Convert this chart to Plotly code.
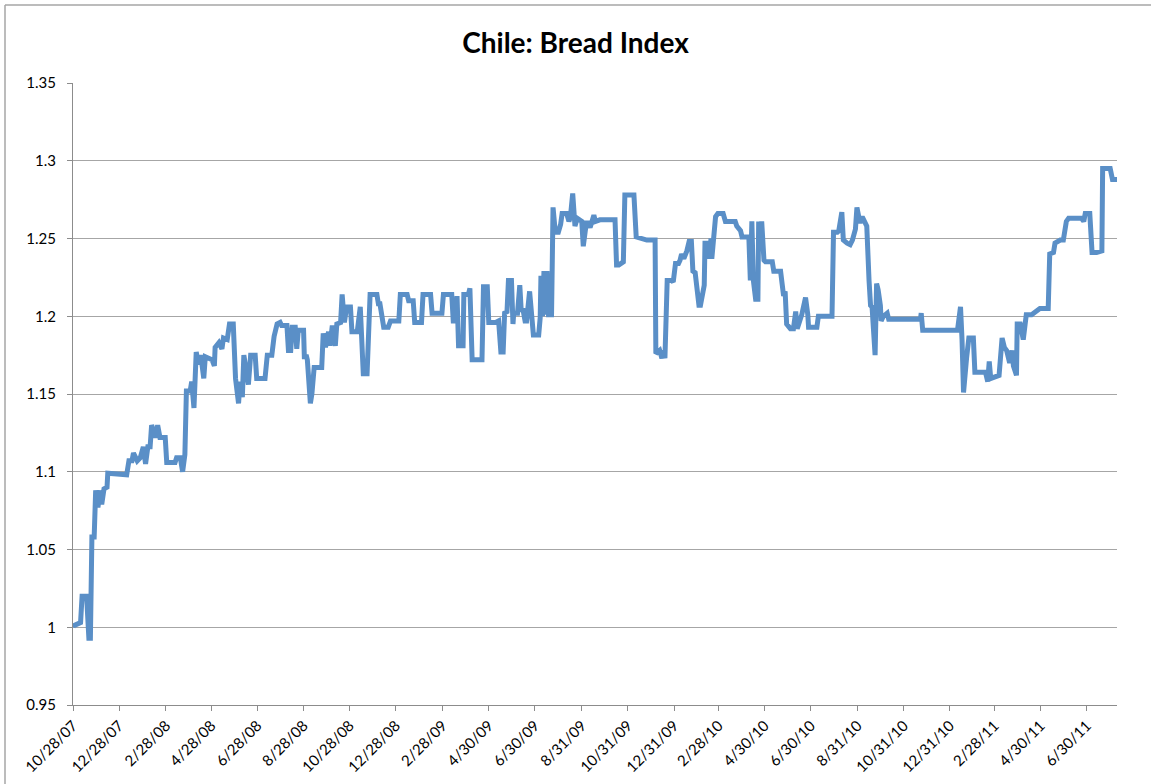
import pandas as pd
import plotly.graph_objects as go

start_date = "2007-10-28"

day_offsets = [
    0, 1, 10, 12, 18, 21, 23, 25, 28, 30, 33, 36, 38, 41, 45, 46, 71, 74, 78, 80, 85, 89, 93, 96, 99, 102,
    104, 109, 112, 115, 122, 124, 135, 137, 142, 145, 148, 150, 155, 157, 160, 163, 166, 169, 173, 175,
    184, 187, 188, 193, 197, 199, 204, 207, 212, 213, 215, 219, 221, 224, 226, 232, 235, 241, 243, 254,
    257, 263, 266, 270,
    274, 276, 283, 285, 288, 290, 294, 296, 298, 305, 306, 309, 310, 314, 316, 319, 329, 331, 334, 338,
    340, 343, 347, 349, 354, 356, 359, 362, 367, 369, 376, 380, 382, 384, 389, 391, 393, 402, 404, 406,
    411, 417, 420, 431, 433, 442, 444, 450, 452, 461, 463, 473, 475, 488, 490, 501, 503, 506, 508, 510,
    516, 517, 523, 525, 528, 541, 543, 548,
    550, 559, 563, 566, 569, 571, 574, 576, 580, 582, 583, 588, 591, 593, 595, 598, 600, 604, 607, 609,
    616, 618, 619, 621, 623, 625, 627, 629, 633, 635, 638, 642, 645, 647, 653, 656, 658, 661, 664, 667,
    673, 675, 679, 682, 684, 689, 691, 697, 717, 719, 722, 728, 730, 742, 745, 753, 759, 770, 771, 776,
    779, 781, 783, 786, 792, 794, 797, 801, 803, 805, 808, 812, 815,
    818, 820, 823, 826, 828, 830, 833, 835, 836, 839, 841, 844, 845, 847, 850, 853, 860, 863, 876, 878,
    883, 885, 894, 896, 898, 900, 903, 906, 907, 908, 911, 914, 916, 925, 927, 936, 938, 940, 942, 944,
    949, 953, 956, 958, 964, 969, 972, 973, 984, 986, 1004, 1006, 1011, 1013, 1017, 1019, 1024, 1028,
    1031, 1033, 1035, 1037, 1039, 1041, 1044, 1046, 1050, 1053, 1055, 1057, 1061, 1063, 1065, 1068,
    1069, 1072, 1077, 1079,
    1121, 1122, 1124, 1170, 1172, 1174, 1176, 1178, 1182, 1185, 1191, 1193, 1207, 1210, 1212, 1214,
    1225, 1229, 1232, 1235, 1239, 1242, 1244, 1248, 1249, 1253, 1257, 1261, 1268, 1273, 1279, 1290,
    1292, 1297, 1299, 1306, 1310, 1314, 1317, 1334, 1337, 1339, 1345, 1348, 1354, 1361, 1362, 1372,
    1375, 1381,
]

bread_index = [
    1.0, 1.001, 1.003, 1.02, 1.02, 0.993, 0.993, 1.058, 1.058, 1.088, 1.077, 1.088, 1.079, 1.089, 1.09,
    1.099, 1.098, 1.107, 1.107, 1.112, 1.107, 1.109, 1.116, 1.105, 1.116, 1.116,
    1.13, 1.122, 1.13, 1.122, 1.122, 1.106, 1.106, 1.109, 1.109, 1.1, 1.111, 1.152, 1.152, 1.158, 1.141,
    1.177, 1.169, 1.175, 1.16, 1.174,
    1.172, 1.168, 1.18, 1.183, 1.179, 1.186, 1.185, 1.195, 1.195, 1.183, 1.16, 1.144, 1.158, 1.148,
    1.175, 1.156, 1.175, 1.175, 1.16, 1.16,
    1.175, 1.175, 1.187, 1.195,
    1.196, 1.194, 1.194, 1.178, 1.178, 1.193, 1.193, 1.179, 1.191, 1.191, 1.174, 1.174, 1.172, 1.144,
    1.15, 1.167, 1.167, 1.189, 1.18, 1.19,
    1.181, 1.194, 1.181, 1.195, 1.196, 1.214, 1.196, 1.206, 1.206, 1.19, 1.19, 1.206, 1.186, 1.163,
    1.163, 1.19, 1.214, 1.214, 1.208, 1.208,
    1.193, 1.193, 1.197, 1.197, 1.214, 1.214, 1.21, 1.21, 1.196, 1.196, 1.214, 1.214, 1.202, 1.202,
    1.214, 1.214, 1.197, 1.197, 1.213, 1.181,
    1.181, 1.214, 1.214, 1.218, 1.172, 1.172, 1.219, 1.219,
    1.196, 1.196, 1.197, 1.177, 1.177, 1.203, 1.202, 1.223, 1.223, 1.195, 1.202, 1.202, 1.22, 1.203,
    1.205, 1.197, 1.197, 1.216, 1.195, 1.188,
    1.188, 1.199, 1.226, 1.2, 1.229, 1.201, 1.229, 1.201, 1.201, 1.27, 1.254, 1.254, 1.259, 1.266,
    1.266, 1.261, 1.264, 1.279, 1.258, 1.263,
    1.261, 1.245, 1.26, 1.26, 1.257, 1.265, 1.261, 1.262, 1.262, 1.233, 1.233, 1.235, 1.278, 1.278,
    1.251, 1.25, 1.249, 1.249, 1.176, 1.178,
    1.173, 1.178, 1.173, 1.223, 1.223, 1.222, 1.234, 1.234, 1.236, 1.24, 1.237, 1.242, 1.248,
    1.248, 1.229, 1.228, 1.215, 1.207, 1.207, 1.216, 1.22, 1.247, 1.247, 1.237, 1.25, 1.237, 1.252,
    1.264, 1.266, 1.266, 1.261, 1.261, 1.258,
    1.255, 1.251, 1.251, 1.223, 1.261, 1.223, 1.211, 1.211, 1.261, 1.245, 1.261, 1.236, 1.235, 1.235,
    1.229, 1.229, 1.221, 1.213, 1.216, 1.195,
    1.192, 1.192, 1.203, 1.192, 1.201, 1.212, 1.201, 1.193, 1.193, 1.2, 1.2, 1.254, 1.254, 1.255,
    1.267, 1.249, 1.247, 1.246,
    1.249, 1.255, 1.256, 1.27, 1.266, 1.26, 1.264, 1.262, 1.258, 1.223, 1.207, 1.206, 1.175, 1.221,
    1.217, 1.207,
    1.197, 1.2, 1.202, 1.198,
    1.198, 1.202, 1.191, 1.191, 1.198, 1.206, 1.185, 1.151, 1.173, 1.186, 1.186, 1.164, 1.164, 1.158,
    1.171, 1.16,
    1.162, 1.186, 1.18, 1.178, 1.17, 1.178, 1.168, 1.162, 1.195, 1.195, 1.185, 1.201, 1.201, 1.203,
    1.205, 1.205,
    1.24, 1.241, 1.247, 1.249, 1.249, 1.261, 1.263, 1.263, 1.261, 1.266, 1.266, 1.241, 1.241, 1.242,
    1.295, 1.295,
    1.288, 1.288,
]

x_tick_labels = [
    "10/28/07", "12/28/07", "2/28/08", "4/28/08", "6/28/08", "8/28/08", "10/28/08", "12/28/08",
    "2/28/09", "4/30/09", "6/30/09", "8/31/09", "10/31/09", "12/31/09", "2/28/10", "4/30/10",
    "6/30/10", "8/31/10", "10/31/10", "12/31/10", "2/28/11", "4/30/11", "6/30/11",
]
y_tick_values = [0.95, 1.0, 1.05, 1.1, 1.15, 1.2, 1.25, 1.3, 1.35]
y_tick_labels = ["0.95", "1", "1.05", "1.1", "1.15", "1.2", "1.25", "1.3", "1.35"]

start = pd.Timestamp(start_date)
dates = [start + pd.Timedelta(days=d) for d in day_offsets]
x_tick_vals = list(pd.to_datetime(x_tick_labels, format="%m/%d/%y"))
x_end = start + pd.Timedelta(days=day_offsets[-1])

W, H = 1151, 784
ML, MR, MT, MB = 73, 34, 83, 79
PW, PH = W - ML - MR, H - MT - MB

fig = go.Figure()
fig.add_trace(go.Scatter(
    x=dates, y=bread_index, mode="lines",
    line=dict(color="#5A8FC7", width=5),
    showlegend=False, hoverinfo="x+y",
))

tick_font = dict(family="Lato, Carlito, Arial, sans-serif", size=15, color="#000000")

# chart-area border (left and top edges visible in the reference)
bx0 = (5 - ML) / PW
by1 = (H - MB - 5) / PH
fig.add_shape(type="line", xref="paper", yref="paper", x0=bx0, x1=bx0, y0=-2, y1=by1,
              line=dict(color="#A6A6A6", width=1.5))
fig.add_shape(type="line", xref="paper", yref="paper", x0=bx0, x1=2, y0=by1, y1=by1,
              line=dict(color="#A6A6A6", width=1.5))

fig.update_layout(
    width=W, height=H,
    margin=dict(l=ML, r=MR, t=MT, b=MB, autoexpand=False),
    paper_bgcolor="white", plot_bgcolor="white",
    title=dict(
        text="<b>Chile: Bread Index</b>",
        x=0.5, xref="container", xanchor="center",
        y=1 - 43 / H, yref="container", yanchor="middle",
        font=dict(family="Lato, Carlito, Arial, sans-serif", size=28, color="#000000"),
    ),
    xaxis=dict(
        type="date",
        range=[start, x_end],
        automargin=False,
        tickmode="array", tickvals=x_tick_vals, ticktext=x_tick_labels,
        tickangle=-45, tickfont=tick_font,
        showgrid=False, zeroline=False,
        showline=True, linecolor="#8C8C8C", linewidth=1,
        ticks="outside", ticklen=5, tickcolor="#8C8C8C",
    ),
    yaxis=dict(
        range=[0.95, 1.35],
        automargin=False,
        tickmode="array", tickvals=y_tick_values, ticktext=y_tick_labels,
        tickfont=tick_font, ticklabelstandoff=8,
        showgrid=True, gridcolor="#A6A6A6", gridwidth=1,
        zeroline=False,
        showline=True, linecolor="#8C8C8C", linewidth=1,
        ticks="outside", ticklen=5, tickcolor="#8C8C8C",
    ),
)

fig.write_html("out.html")
